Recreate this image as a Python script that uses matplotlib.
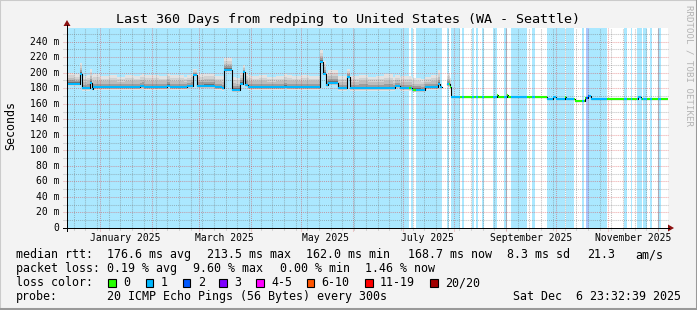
import matplotlib
matplotlib.use('Agg')
import matplotlib.pyplot as plt
import matplotlib.dates as mdates
from matplotlib.collections import LineCollection
from matplotlib.patches import Polygon, Rectangle
from matplotlib.lines import Line2D
import numpy as np
import datetime as dt

# ---------------- data ----------------
title = "Last 360 Days from redping to United States (WA - Seattle)"
end_time = dt.datetime(2025, 12, 6, 23, 32, 39)
span_days = 360

# median RTT (ms) as a step function: value holds from med_day[i] to med_day[i+1]
med_day = [0, 7.8, 8.7, 13.8, 14.7, 15.6, 44.0, 46.0, 59.9, 61.7, 71.7, 75.5, 77.9,
           88.7, 92.8, 94.0, 98.7, 103.6, 105.4, 106.6, 108.4, 130.0, 132.0,
           151.6, 153.3, 155.0, 156.3, 162.3, 167.5, 169.5, 196.5, 199.5, 206.5,
           214.4, 222.2, 223.4, 224.5, 227.5, 229.4, 230.0, 257.4, 258.2, 263.4,
           264.2, 287.3, 291.1, 292.9, 298.3, 298.9, 304.3, 310.3, 312.1, 313.9,
           342.0, 343.8, 360.0]
med_ms = [186, 199, 180, 187, 179, 181, 182.5, 181, 183.5, 181, 183, 197, 183,
          181, 180, 204, 178, 186, 201, 184, 181, 182, 181,
          214, 199, 184, 187, 180, 195, 180, 183, 180, 178,
          181, 186, 182, np.nan, 185, 181, 169, 171, 169, 171,
          169, 166.5, 169, 166.5, 168.5, 166, 163, 167, 170, 166.5,
          169, 166.5, 166.5]

# smoke extent above / below the median (ms), step function on smoke_day
smoke_day = [0, 4, 7.8, 8.7, 12, 13.8, 15.6, 20, 25, 30, 35, 40, 45, 50, 55, 60,
             65, 70, 74, 75.5, 77.9, 82, 88, 92.8, 94, 98.7, 101, 103.6, 105.4,
             106.6, 110, 115, 120, 125, 130, 135, 140, 145, 151.6, 153.3, 155,
             162.3, 167.5, 169.5, 175, 180, 185, 190, 195, 200, 206.5, 212, 218,
             222.2, 223.4, 224.5, 227.5, 229.4, 230, 360]
smoke_hi = [14, 12, 13, 16, 17, 18, 17, 15, 16, 14, 16, 15, 16.5, 16, 15, 15.5,
            16, 14, 15, 8, 15, 16, 15, 16, 15, 17, 15, 14, 9,
            16, 15, 16, 14, 15, 16, 15, 16, 15, 15, 16, 16,
            16, 10, 16, 17, 15, 16, 18, 14, 16, 15, 14, 16,
            17, 13, 0, 14, 12, 1.2, 1.2]
smoke_lo = [3, 3, 2, 3, 3, 2, 3, 3, 3, 3, 3, 3, 3, 3, 3, 3,
            3, 3, 3, 2, 3, 3, 3, 3, 3, 3, 3, 3, 2,
            3, 3, 3, 3, 3, 3, 3, 3, 3, 3, 3, 3,
            3, 2, 3, 3, 3, 3, 3, 3, 3, 3, 3, 3,
            3, 2, 0, 3, 2, 0.6, 0.6]

# packet-loss intervals (days) and their loss level (index into loss_colors)
loss_start = [0.0, 206.0, 208.9, 227.5, 229.8, 236.6, 242.6, 245.0, 248.6, 255.2,
              261.8, 265.9, 278.4, 287.3, 298.9, 308.5, 310.9, 312.7, 333.8,
              337.8, 341.4, 345.0, 349.2, 354.0]
loss_end = [205.0, 207.4, 224.5, 228.6, 235.4, 237.8, 243.8, 246.2, 249.8, 257.4,
            263.4, 275.4, 280.3, 298.5, 303.7, 309.7, 312.7, 323.5, 335.6,
            338.4, 344.4, 347.4, 350.4, 355.8]
loss_level = [1, 1, 1, 1, 1, 1, 1, 1, 1, 1,
              1, 1, 1, 1, 1, 1, 2, 1, 1,
              1, 1, 1, 1, 1]

loss_labels = ["0", "1", "2", "3", "4-5", "6-10", "11-19", "20/20"]
loss_colors = ["#26ff00", "#00b8ff", "#0059ff", "#7e00ff", "#ff00ff",
               "#ff5500", "#ff0000", "#a10000"]

y_ticks = list(range(0, 241, 20))
x_label_months = [(2025, 1), (2025, 3), (2025, 5), (2025, 7), (2025, 9), (2025, 11)]

stats_rows = [
    [(16, "median rtt:"), (106.7, "176.6 ms avg"), (207.3, "213.5 ms max"),
     (306, "162.0 ms min"), (407.7, "168.7 ms now"), (507.3, "8.3 ms sd"),
     (586.7, "21.3"), (635, "am/s")],
    [(16, "packet loss:"), (107.3, "0.19 % avg"), (193.3, "9.60 % max"),
     (279.5, "0.00 % min"), (365, "1.46 % now")],
]
legend_sq_x = [108.3, 145.7, 182.7, 219.3, 256, 306.7, 365, 430]
probe_text = "20 ICMP Echo Pings (56 Bytes) every 300s"
stamp_text = "Sat Dec  6 23:32:39 2025"

# ---------------- layout ----------------
W, H = 697, 310
DPI = 100
MONO = "DejaVu Sans Mono"
fig = plt.figure(figsize=(W / DPI, H / DPI), dpi=DPI)
fig.patch.set_facecolor("#f3f3f3")

px0, px1, py_top, py_bot = 67, 668, 27.7, 228
YMAX = 258.0
ax = fig.add_axes([px0 / W, 1 - py_bot / H, (px1 - px0) / W, (py_bot - py_top) / H])
start_time = end_time - dt.timedelta(days=span_days)
t0 = mdates.date2num(start_time)
ax.set_xlim(t0, t0 + span_days)
ax.set_ylim(0, YMAX)
ax.set_facecolor("white")
for s in ax.spines.values():
    s.set_visible(False)
ax.set_xticks([])
ax.set_yticks([])


def X(d):
    return t0 + np.asarray(d, dtype=float)


def light(c, a=0.33):
    r, g, b = matplotlib.colors.to_rgb(c)
    return (1 - a + a * r, 1 - a + a * g, 1 - a + a * b)


# loss background stripes
for s, e, lv in zip(loss_start, loss_end, loss_level):
    ax.axvspan(X(s), X(e), color=light(loss_colors[lv]), lw=0, zorder=0)

# smoke (evaluated on the union of the median and smoke breakpoints)
md = np.array(med_day, float)
mv = np.array(med_ms, float)
sd = np.array(smoke_day, float)
sh = np.array(smoke_hi, float)
sl = np.array(smoke_lo, float)
ud = np.array(sorted(set(med_day) | set(smoke_day)))
um = mv[np.clip(np.searchsorted(md, ud, side="right") - 1, 0, len(md) - 1)]
uh = sh[np.clip(np.searchsorted(sd, ud, side="right") - 1, 0, len(sd) - 1)]
ul = sl[np.clip(np.searchsorted(sd, ud, side="right") - 1, 0, len(sd) - 1)]
layers = [(1.0, "#e3e3e3"), (0.76, "#d2d2d2"), (0.52, "#bdbdbd"), (0.3, "#9d9d9d"), (0.12, "#6e6e6e")]
for frac, col in layers:
    ax.fill_between(X(ud), um - ul * frac, um + uh * frac, step="post",
                    color=col, lw=0, zorder=1)

# grid (dotted)
minor_c = (0.45, 0.45, 0.45, 0.45)
major_c = (0.85, 0.25, 0.25, 0.45)
gkw = dict(linestyle=(0, (1, 1)), lw=0.75, zorder=2, clip_on=False)
for v in range(10, int(YMAX), 10):
    ax.axhline(v, color=(minor_c if v % 20 else major_c), xmin=-0.006, xmax=1, **gkw)
wk = mdates.date2num(dt.datetime(2024, 12, 16))
while wk < t0 + span_days:
    ax.axvline(wk, color=minor_c, ymin=-0.012, ymax=1, **gkw)
    wk += 7
y, m = 2025, 1
while True:
    mt = mdates.date2num(dt.datetime(y, m, 1))
    if mt > t0 + span_days:
        break
    ax.axvline(mt, color=major_c, ymin=-0.015, ymax=1, **gkw)
    m += 1
    if m > 12:
        m, y = 1, y + 1

# median line: black step underneath, loss-coloured horizontal segments on top
ax.step(X(md), mv, where="post", color="black", lw=0.8, zorder=3)
cuts = sorted(set(med_day) | set(loss_start) | set(loss_end))
segs, cols = [], []
for a, b in zip(cuts[:-1], cuts[1:]):
    mid = 0.5 * (a + b)
    i = np.searchsorted(md, mid, side="right") - 1
    v = mv[i]
    if np.isnan(v):
        continue
    lv = 0
    for s, e, L in zip(loss_start, loss_end, loss_level):
        if s <= mid < e:
            lv = L
    segs.append([(X(a), v), (X(b), v)])
    cols.append(loss_colors[lv])
ax.add_collection(LineCollection(segs, colors=cols, lw=1.5, capstyle="butt", zorder=4))


# ---------------- axes, arrows, text ----------------
def fx(x):
    return x / W


def fy(y):
    return 1 - y / H


fig.add_artist(Line2D([fx(63), fx(669)], [fy(228), fy(228)], color="black", lw=0.72))
fig.add_artist(Line2D([fx(67), fx(67)], [fy(231), fy(25)], color="black", lw=0.72))
fig.add_artist(Polygon([(fx(668), fy(224.5)), (fx(674), fy(228)), (fx(668), fy(231.5))],
                       closed=True, color="#8b1010", lw=0))
fig.add_artist(Polygon([(fx(63.5), fy(26)), (fx(67), fy(20)), (fx(70.5), fy(26))],
                       closed=True, color="#8b1010", lw=0))


def ftext(x, y, s, **kw):
    kw.setdefault("family", MONO)
    fig.text(fx(x), fy(y), s, **kw)


ftext(348.5, 22.7, title, ha="center", va="baseline", fontsize=9.6)
ftext(11, 126, "Seconds", ha="center", va="center", rotation=90, fontsize=8.4)
ftext(688.5, 5, "RRDTOOL / TOBI OETIKER", ha="center", va="top", rotation=270,
      fontsize=6.6, color="#b4b4b4")

k = (py_bot - py_top) / YMAX
for v in y_ticks:
    lab = "0" if v == 0 else f"{v} m"
    ftext(59.7, py_bot - v * k, lab, ha="right", va="center", fontsize=7.05)

for (yy, mm) in x_label_months:
    t = mdates.date2num(dt.datetime(yy, mm, 1)) + 15
    xp = px0 + (t - t0) / span_days * (px1 - px0)
    ftext(xp, 241.3, dt.datetime(yy, mm, 1).strftime("%B %Y"), ha="center",
          va="baseline", fontsize=7.05)

LFS = 8.4
for row, yb in zip(stats_rows, [258.3, 272.3]):
    for x, s in row:
        ftext(x, yb, s, ha="left", va="baseline", fontsize=LFS)

ftext(16, 286.3, "loss color:", ha="left", va="baseline", fontsize=LFS)
for xs, lab, col in zip(legend_sq_x, loss_labels, loss_colors):
    fig.add_artist(Rectangle((fx(xs), fy(286.5)), 7.5 / W, 8 / H, facecolor=col,
                             edgecolor="black", lw=0.8))
    ftext(xs + 15, 286.3, lab, ha="left", va="baseline", fontsize=LFS)

ftext(16, 300.3, "probe:", ha="left", va="baseline", fontsize=LFS)
ftext(107.3, 300.3, probe_text, ha="left", va="baseline", fontsize=LFS)
ftext(513.3, 300.3, stamp_text, ha="left", va="baseline", fontsize=LFS)

# 3D frame
fig.add_artist(Line2D([0, 0, 1], [0, 1, 1], color="#cbcbcb", lw=1.5, transform=fig.transFigure))
fig.add_artist(Line2D([0, 1, 1], [0.002, 0.002, 1], color="#999999", lw=2.2, transform=fig.transFigure))

fig.savefig("out.png", dpi=DPI, facecolor=fig.get_facecolor())
